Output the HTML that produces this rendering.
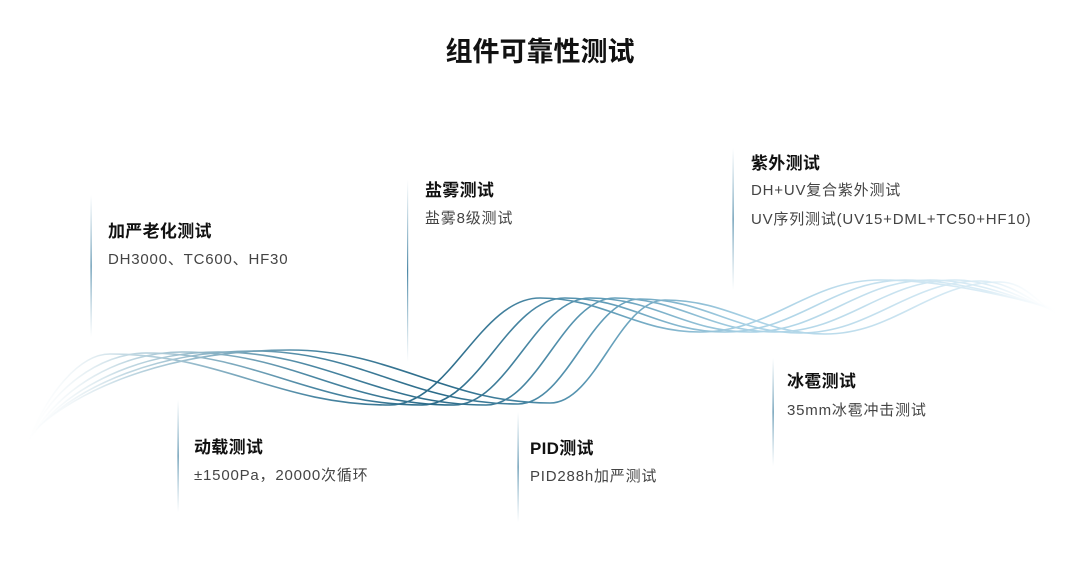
<!DOCTYPE html>
<html><head><meta charset="utf-8"><style>
body{margin:0;width:1080px;height:573px;background:#fff;position:relative;overflow:hidden;font-family:"Liberation Sans","Noto Sans CJK SC",sans-serif}
.t{position:absolute;font-weight:bold;font-size:17px;letter-spacing:0.3px;color:#111;white-space:nowrap}
.s{position:absolute;font-size:15px;letter-spacing:0.8px;color:#444;white-space:nowrap}
h1{position:absolute;left:0;width:1080px;top:30px;margin:0;text-align:center;font-size:27px;font-weight:bold;color:#111}
</style></head><body>
<h1>组件可靠性测试</h1>
<svg width="1080" height="573" style="position:absolute;left:0;top:0">
<defs>
<linearGradient id="g" gradientUnits="userSpaceOnUse" x1="20" y1="0" x2="1060" y2="0">
<stop offset="0" stop-color="#fff" stop-opacity="0"/>
<stop offset="0.1" stop-color="#c4dae4"/>
<stop offset="0.28" stop-color="#4b87a3"/>
<stop offset="0.4" stop-color="#2b6b89"/>
<stop offset="0.55" stop-color="#5b98b4"/>
<stop offset="0.7" stop-color="#a8d1e5"/>
<stop offset="0.93" stop-color="#dcedf6"/>
<stop offset="1" stop-color="#fff" stop-opacity="0"/>
</linearGradient>
<linearGradient id="v" x1="0" y1="0" x2="0" y2="1">
<stop offset="0" stop-color="#6fa3bd" stop-opacity="0"/>
<stop offset="0.5" stop-color="#4f8aa8"/>
<stop offset="1" stop-color="#6fa3bd" stop-opacity="0"/>
</linearGradient>
</defs>
<g fill="url(#v)">
<rect x="90.5" y="195" width="1.2" height="142"/>
<rect x="407" y="180" width="1.2" height="182"/>
<rect x="732.5" y="148" width="1.2" height="142"/>
<rect x="177.5" y="400" width="1.2" height="112"/>
<rect x="517.5" y="412" width="1.2" height="110"/>
<rect x="772.5" y="358" width="1.2" height="108"/>
</g>
<g fill="none" stroke="url(#g)" stroke-width="1.6">
<path d="M28,442 C48,392 80,354 110,354 C222,354 278,405 390,405 C450,405 480,298 540,298 C604,298 636,332 700,332 C772,332 808,280 880,280 C950,280 1020,300 1055,308"/>
<path d="M30,439 C50,390 100,353 146,353 C256,353 312,405 422,405 C479,405 508,298 565,298 C629,298 661,332 725,332 C797,332 833,280 905,280 C965,280 1020,301 1055,309"/>
<path d="M32,436 C60,388 120,352 182,352 C291,352 345,405 454,405 C508,405 536,298 590,298 C654,298 686,332 750,332 C822,332 858,280 930,280 C980,280 1025,302 1055,310"/>
<path d="M34,433 C70,386 140,352 218,352 C325,352 379,405 486,405 C538,405 563,298 615,298 C679,298 711,332 775,332 C847,332 883,280 955,280 C995,280 1030,303 1055,311"/>
<path d="M36,430 C80,384 160,351 254,351 C360,351 412,404 518,404 C567,404 591,299 640,299 C704,299 736,333 800,333 C872,333 908,281 980,281 C1010,281 1035,304 1055,312"/>
<path d="M38,427 C90,382 180,350 290,350 C394,350 446,403 550,403 C596,403 619,300 665,300 C729,300 761,334 825,334 C895,334 930,282 1000,282 C1025,282 1040,305 1055,313"/>
</g>
</svg>
<div class="t" style="left:108px;top:217px">加严老化测试</div>
<div class="s" style="left:108px;top:248px">DH3000、TC600、HF30</div>
<div class="t" style="left:425px;top:176px">盐雾测试</div>
<div class="s" style="left:425px;top:207px">盐雾8级测试</div>
<div class="t" style="left:751px;top:149px">紫外测试</div>
<div class="s" style="left:751px;top:179px">DH+UV复合紫外测试</div>
<div class="s" style="left:751px;top:208px">UV序列测试(UV15+DML+TC50+HF10)</div>
<div class="t" style="left:194px;top:433px">动载测试</div>
<div class="s" style="left:194px;top:464px">±1500Pa，20000次循环</div>
<div class="t" style="left:530px;top:434px">PID测试</div>
<div class="s" style="left:530px;top:465px">PID288h加严测试</div>
<div class="t" style="left:787px;top:367px">冰雹测试</div>
<div class="s" style="left:787px;top:399px">35mm冰雹冲击测试</div>
</body></html>
